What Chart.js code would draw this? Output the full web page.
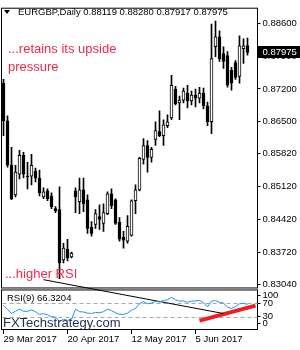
<!DOCTYPE html>
<html>
<head>
<meta charset="utf-8"/>
<style>
  html,body{margin:0;padding:0;background:#fff;}
  #wrap{position:relative;width:300px;height:350px;overflow:hidden;font-family:"Liberation Sans",Arial,sans-serif;}
  canvas{position:absolute;left:0;top:0;}
  .t{position:absolute;white-space:nowrap;line-height:1;}
  .hdr{left:18px;top:7px;font-size:9.5px;color:#000;}
  .tri{position:absolute;left:4px;top:10px;width:0;height:0;border-left:3.5px solid transparent;border-right:3.5px solid transparent;border-top:4px solid #000;}
  .note{font-size:13px;color:#f0284a;line-height:18px;}
  .rsiLbl{left:7px;top:293px;font-size:9.5px;color:#000;}
  .wm{left:3px;top:316px;font-size:13px;color:#1f2d4d;}
</style>
</head>
<body>
<div id="wrap">
  <canvas id="c" width="300" height="350"></canvas>
  <div class="tri"></div>
  <div class="t hdr" id="hdr"></div>
  <div class="t note" style="left:8px;top:39.5px;">...retains its upside<br>pressure</div>
  <div class="t note" style="left:5px;top:264.5px;">...higher RSI</div>
  <div class="t rsiLbl" id="rsiLbl"></div>
  <div class="t wm">FXTechstrategy.com</div>
</div>
<script src="https://cdn.jsdelivr.net/npm/chart.js@4.4.0/dist/chart.umd.min.js"></script>
<script>
const symbol = "EURGBP,Daily";

// trading days, the last two are the empty chart-shift bars on the right
const dates = [
  "29 Mar 2017","30 Mar 2017","31 Mar 2017",
  "3 Apr 2017","4 Apr 2017","5 Apr 2017","6 Apr 2017","7 Apr 2017",
  "10 Apr 2017","11 Apr 2017","12 Apr 2017","13 Apr 2017","14 Apr 2017",
  "17 Apr 2017","18 Apr 2017","19 Apr 2017","20 Apr 2017","21 Apr 2017",
  "24 Apr 2017","25 Apr 2017","26 Apr 2017","27 Apr 2017","28 Apr 2017",
  "1 May 2017","2 May 2017","3 May 2017","4 May 2017","5 May 2017",
  "8 May 2017","9 May 2017","10 May 2017","11 May 2017","12 May 2017",
  "15 May 2017","16 May 2017","17 May 2017","18 May 2017","19 May 2017",
  "22 May 2017","23 May 2017","24 May 2017","25 May 2017","26 May 2017",
  "29 May 2017","30 May 2017","31 May 2017","1 Jun 2017","2 Jun 2017",
  "5 Jun 2017","6 Jun 2017","7 Jun 2017","8 Jun 2017","9 Jun 2017",
  "12 Jun 2017","13 Jun 2017","14 Jun 2017","15 Jun 2017","16 Jun 2017",
  "19 Jun 2017","20 Jun 2017","21 Jun 2017","22 Jun 2017",
  "23 Jun 2017","26 Jun 2017"
];

const opens = [
  0.87320,0.86523,0.85578,0.84949,0.85390,0.85788,0.85348,0.85348,0.85453,0.85306,
  0.84907,0.85033,0.84928,0.84655,0.84634,0.83564,0.83795,0.83627,0.85033,0.84802,
  0.85054,0.84844,0.84257,0.84320,0.84487,0.84341,0.84550,0.84970,0.84844,0.84362,
  0.84047,0.83963,0.84089,0.84823,0.85054,0.85704,0.85998,0.85746,0.86124,0.86292,
  0.86208,0.86418,0.86586,0.87194,0.86900,0.86963,0.87110,0.86942,0.87068,0.87005,
  0.87110,0.86838,0.86502,0.88096,0.88306,0.87950,0.87908,0.87593,0.87761,0.87467,
  0.88054,0.88119
];
const highs = [
  0.87404,0.86628,0.85956,0.85578,0.85893,0.85851,0.85641,0.85809,0.85516,0.85474,
  0.85096,0.85075,0.84991,0.84697,0.85117,0.83921,0.84005,0.83732,0.85096,0.85306,
  0.85306,0.84949,0.84383,0.84634,0.84739,0.84760,0.85012,0.85075,0.84865,0.84466,
  0.84173,0.84508,0.84844,0.85159,0.85746,0.86145,0.86103,0.85956,0.86502,0.86733,
  0.86544,0.86649,0.87488,0.87257,0.87047,0.87215,0.87278,0.87152,0.87194,0.87236,
  0.87215,0.86921,0.88579,0.88642,0.88432,0.88096,0.87992,0.87656,0.87803,0.88327,
  0.88264,0.88280
];
const lows = [
  0.86208,0.85537,0.84844,0.84907,0.85285,0.85306,0.85075,0.85159,0.85222,0.84928,
  0.84865,0.84823,0.84655,0.84571,0.83166,0.83501,0.83543,0.83606,0.84571,0.84550,
  0.84592,0.84131,0.84068,0.84236,0.84215,0.84173,0.84529,0.84655,0.84320,0.83963,
  0.83816,0.83921,0.84068,0.84550,0.85033,0.85599,0.85432,0.85641,0.85998,0.86187,
  0.85998,0.86376,0.86544,0.86858,0.86544,0.86900,0.86796,0.86858,0.86817,0.86900,
  0.86775,0.86418,0.86250,0.87887,0.87782,0.87635,0.87236,0.87173,0.87404,0.87320,
  0.87740,0.87917
];
const closes = [
  0.86523,0.85578,0.84865,0.85432,0.85788,0.85390,0.85327,0.85578,0.85306,0.84991,
  0.85012,0.84865,0.84697,0.84613,0.83501,0.83816,0.83606,0.83711,0.84907,0.85054,
  0.84760,0.84236,0.84131,0.84550,0.84424,0.84571,0.84970,0.84718,0.84341,0.84005,
  0.83984,0.84278,0.84823,0.85054,0.85725,0.85998,0.85746,0.85914,0.86313,0.86208,
  0.86439,0.86502,0.87278,0.86879,0.86963,0.87152,0.86942,0.87068,0.87005,0.87110,
  0.86838,0.86502,0.87845,0.88306,0.87845,0.87782,0.87278,0.87320,0.87446,0.88117,
  0.88117,0.87975
];

const rsi = [
  64,52,41,47,53,47,47,51,46,38,
  41,37,32,31,18,25,22,25,53,46,
  45,42,41,44,43,46,53,49,43,39,
  38,42,50,55,68,74,68,70,75,73,
  77,79,86,79,75,76,72,75,76,77,
  71,59,75,77,72,70,58,55,60,68,
  69,66.3204
];

const priceTicks = [0.88600,0.87900,0.87200,0.86500,0.85820,0.85120,0.84420,0.83720,0.83040];
const rsiLevels = [70, 30];
// MT4 nudges the 100 and 0 labels inside the sub-window
const rsiTickPos = [91, 69, 33, 14];
const rsiTickLabels = ["100","70","30","0"];

// hand drawn lines on the picture: [bar index, RSI value]
const trendLine = [[10, 134.6], [55, 40.8]];
const redLine = [[49, 21.0], [63, 62.6]];

const last = closes.length - 1;
document.getElementById("hdr").textContent =
  `${symbol} ${opens[last].toFixed(5)} ${highs[last].toFixed(5)} ${lows[last].toFixed(5)} ${closes[last].toFixed(5)}`;
document.getElementById("rsiLbl").textContent = `RSI(9) ${rsi[last].toFixed(4)}`;

const AXIS_FONT = { family: "'Liberation Sans', Arial, sans-serif", size: 9.5 };

const panes = {
  id: "panes",
  beforeDatasetsDraw(chart) {
    const { ctx, chartArea: a, scales: { y, rsi: rs } } = chart;
    ctx.save();
    ctx.strokeStyle = "#000";
    ctx.lineWidth = 1;
    ctx.strokeRect(a.left, y.top + 0.5, a.width, y.bottom - y.top - 1);
    ctx.strokeRect(a.left, rs.top + 1.5, a.width, rs.bottom - rs.top - 1);
    ctx.strokeStyle = "#a9a9a9";
    ctx.setLineDash([4, 3]);
    rsiLevels.forEach(v => {
      const py = Math.round(rs.getPixelForValue(v)) + 0.5;
      ctx.beginPath();
      ctx.moveTo(a.left + 1, py);
      ctx.lineTo(a.right, py);
      ctx.stroke();
    });
    ctx.restore();
  },
  afterDraw(chart) {
    const { ctx, chartArea: a, scales: { y } } = chart;
    const py = Math.round(y.getPixelForValue(closes[last]));
    ctx.save();
    ctx.fillStyle = "#000";
    ctx.fillRect(a.right + 0.5, py - 6, 300 - a.right, 12);
    ctx.fillStyle = "#fff";
    ctx.font = "9.5px 'Liberation Sans', Arial, sans-serif";
    ctx.textBaseline = "middle";
    ctx.fillText(closes[last].toFixed(5), 262.5, py + 0.5);
    ctx.restore();
  }
};

new Chart(document.getElementById("c"), {
  type: "bar",
  data: {
    labels: dates,
    datasets: [
      {
        label: "bodies",
        xAxisID: "x",
        yAxisID: "y",
        data: opens.map((o, i) => [o, closes[i]]),
        backgroundColor: opens.map((o, i) => closes[i] >= o ? "#fff" : "#000"),
        borderColor: "#000",
        borderWidth: 1,
        borderSkipped: false,
        barThickness: 3,
        grouped: false,
        order: 1
      },
      {
        label: "wicks",
        xAxisID: "x",
        yAxisID: "y",
        data: lows.map((l, i) => [l, highs[i]]),
        backgroundColor: "#000",
        barThickness: 1,
        grouped: false,
        order: 2
      },
      {
        type: "line",
        label: "RSI(9)",
        xAxisID: "x",
        yAxisID: "rsi",
        data: rsi,
        borderColor: "#1e90ff",
        borderWidth: 1,
        pointRadius: 0,
        tension: 0,
        order: 0
      },
      {
        type: "line",
        label: "trend",
        xAxisID: "x",
        yAxisID: "rsi",
        data: trendLine.map(([i, v]) => ({ x: dates[i], y: v })),
        borderColor: "#000",
        borderWidth: 1,
        pointRadius: 0,
        clip: false,
        order: 0
      },
      {
        type: "line",
        label: "higher RSI",
        xAxisID: "x",
        yAxisID: "rsi",
        data: redLine.map(([i, v]) => ({ x: dates[i], y: v })),
        borderColor: "#ee1c24",
        borderWidth: 4,
        pointRadius: 0,
        clip: false,
        order: 0
      }
    ]
  },
  options: {
    responsive: false,
    animation: false,
    layout: { padding: { left: 1.5, top: 4, right: 0, bottom: 0 } },
    plugins: { legend: { display: false }, tooltip: { enabled: false } },
    scales: {
      x: {
        type: "category",
        offset: true,
        border: { display: false },
        grid: {
          offset: false,
          drawOnChartArea: false,
          tickLength: 5,
          color: c => (c.index % 16 === 0 && c.index < closes.length) ? "#000" : "rgba(0,0,0,0)"
        },
        ticks: {
          autoSkip: false,
          maxRotation: 0,
          align: "start",
          padding: 0,
          color: "#000",
          font: AXIS_FONT,
          callback: (v, i) => (i % 16 === 0 && i < closes.length) ? dates[i] : ""
        },
        afterFit: s => { s.height = 21; }
      },
      y: {
        type: "linear",
        position: "right",
        stack: "win",
        stackWeight: 284,
        bounds: "data",
        min: 0.829592,
        max: 0.889256,
        border: { display: false },
        grid: { drawOnChartArea: false, tickLength: 3, color: "#000" },
        afterBuildTicks: s => { s.ticks = priceTicks.map(v => ({ value: v })); },
        ticks: { autoSkip: false, padding: 2, color: "#000", font: AXIS_FONT, callback: v => v.toFixed(5) },
        afterFit: s => { s.width = 42.5; }
      },
      rsi: {
        type: "linear",
        position: "right",
        stack: "win",
        stackWeight: 41,
        bounds: "data",
        min: -2.05,
        max: 110.3,
        border: { display: false },
        grid: { drawOnChartArea: false, tickLength: 3, color: "#000" },
        afterBuildTicks: s => { s.ticks = rsiTickPos.map(v => ({ value: v })); },
        ticks: { autoSkip: false, padding: 2, color: "#000", font: AXIS_FONT, callback: (v, i) => rsiTickLabels[i] },
        afterFit: s => { s.width = 42.5; }
      }
    }
  },
  plugins: [panes]
});
</script>
</body>
</html>
